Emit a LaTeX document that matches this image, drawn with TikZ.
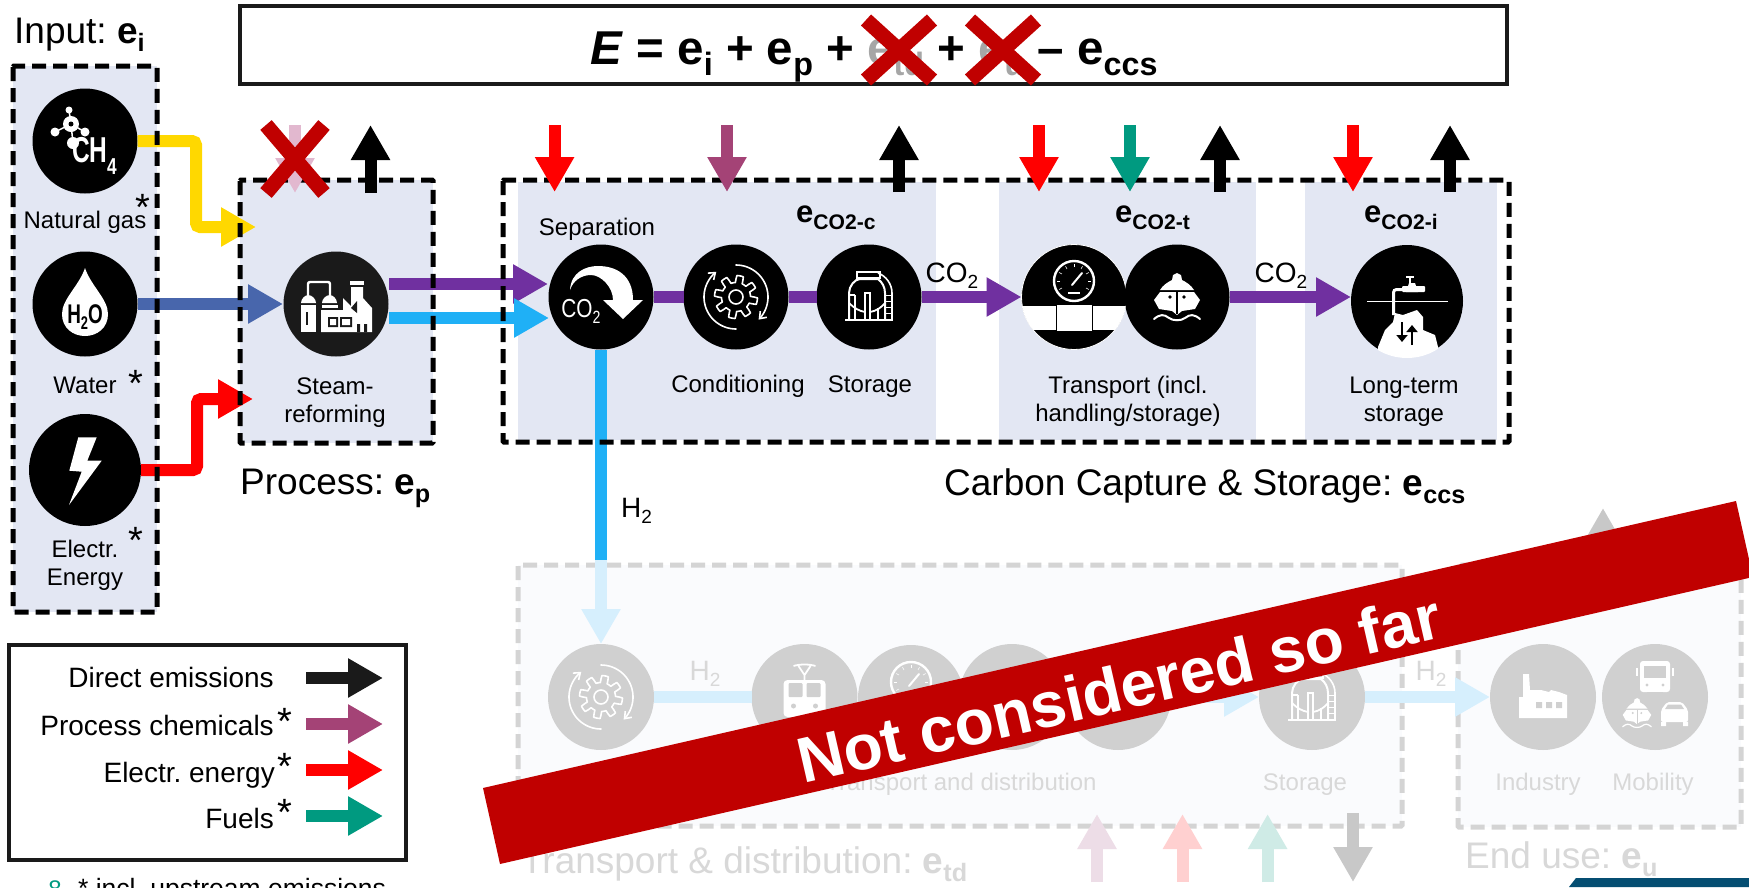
\documentclass[tikz,border=0pt]{standalone}
\usepackage{fontspec}
\usepackage{graphicx}
\setmainfont{Liberation Sans}
\frenchspacing
\usetikzlibrary{arrows.meta}
\definecolor{panel}{HTML}{E3E7F3}
\definecolor{panelL}{HTML}{FAFBFD}
\definecolor{grayD}{HTML}{D4D4D4}
\definecolor{grayC}{HTML}{D0D0D0}
\definecolor{grayT}{HTML}{D8D8D8}
\definecolor{nearblack}{HTML}{1A1A1A}
\definecolor{yel}{HTML}{FFD800}
\definecolor{wat}{HTML}{4866AC}
\definecolor{elec}{HTML}{FF0000}
\definecolor{pur}{HTML}{7030A0}
\definecolor{hyd}{HTML}{1FB0F6}
\definecolor{hydL}{HTML}{D6EFFD}
\definecolor{chem}{HTML}{A44376}
\definecolor{fuel}{HTML}{009A80}
\definecolor{banner}{HTML}{C00000}
\definecolor{navy}{HTML}{054E72}
\definecolor{fchem}{HTML}{EDDDE7}
\definecolor{felec}{HTML}{FFD0D0}
\definecolor{ffuel}{HTML}{CFEBE6}
\definecolor{fblk}{HTML}{C8C8C8}
\definecolor{pink}{HTML}{E2B8CF}
\newcommand{\pxf}[1]{\fontsize{#1}{#1}\selectfont}
\newcommand{\subt}[1]{\raisebox{-.24em}{\scalebox{.68}{#1}}}
\newcommand{\vflow}[4]{\coordinate (#1s) at (#3); \coordinate (#1e) at (#4); \draw[flow,#2] (#1s) -- (#1e);}
\newcommand{\astk}[3]{\node[font=\pxf{38},anchor=base] (#1) at (#2,#3+18) {*};}
\tikzset{
  x=1pt,y=-1pt,
  flow/.style={line width=12pt,-{Triangle[length=35pt,width=37pt]}},
  plainflow/.style={line width=12pt},
  blackc/.style={circle,fill=black,minimum size=105pt,inner sep=0pt,outer sep=0pt},
  grayc/.style={circle,fill=grayC,minimum size=106pt,inner sep=0pt,outer sep=0pt},
  dashbox/.style={draw=black,line width=5pt,dash pattern=on 14pt off 7pt,rounded corners=1pt},
  dashgray/.style={draw=grayD,line width=5pt,dash pattern=on 14pt off 7pt,rounded corners=1pt},
  lab/.style={font=\pxf{24},anchor=base},
  glab/.style={font=\pxf{24},anchor=base,text=grayT},
  lab2/.style={font=\fontsize{24}{28}\selectfont,align=center,anchor=center},
  big/.style={font=\pxf{37},anchor=base west,inner sep=0pt},
  leg/.style={font=\pxf{28},anchor=base east,inner sep=0pt},
  bsub/.style={font=\bfseries\pxf{31},anchor=base west,inner sep=0pt},
  crossx/.style={line width=15pt,draw=banner},
  wline/.style={draw=white,line width=1.6pt},
}
\newcommand{\gearicon}[1]{\begin{scope}[shift={(#1)}]
  \draw[wline,line join=round] plot[domain=0:360,samples=145] (\x:{18+3.5*max(-1,min(1,3*sin(8*\x)))}) -- cycle;
  \draw[wline] (0,0) circle[radius=7];
  \draw[wline,line cap=round,-{Straight Barb[length=6pt,width=9pt]}] plot[domain=-90:45,samples=30] (\x:32);
  \draw[wline,line cap=round,-{Straight Barb[length=6pt,width=9pt]}] plot[domain=90:232,samples=30] (\x:32);
\end{scope}}
\newcommand{\tankicon}[1]{\begin{scope}[shift={(#1)}]
  \draw[wline,line width=2pt] (-24,23) -- (24,23);
  \draw[wline,line width=1.8pt] (-12,-19) rectangle (11,-25);
  \draw[wline,line width=2pt] (-20,23) -- (-20,-4) .. controls (-20,-11) and (-14,-18) .. (-9,-18) -- (9,-18) .. controls (13,-15) and (16,-10) .. (16,-4) -- (16,23);
  \draw[wline] (-20,-2) -- (-14,-2) (-14,-2) -- (-14,23);
  \draw[wline] (9,-24) .. controls (17,-21) and (23,-13) .. (23,-4) -- (23,23);
  \foreach \yy in {-2,4,10,16}{\draw[wline,line width=.8pt] (16,\yy) -- (23,\yy);}
  \draw[wline,line width=1.8pt] (-4,23) -- (-4,-4) -- (1,-4) -- (1,23);
  \draw[wline,line width=1.8pt] (-20,6) .. controls (-15,11) and (-10,14) .. (-4,15) (1,15) .. controls (7,14) and (12,11) .. (16,6);
  \draw[wline] (9,11) -- (9,23);
\end{scope}}
\newcommand{\gaugeicon}[2]{\begin{scope}[shift={(#1)}]
  \begin{scope}
    \clip (0,0) circle[radius=52.5];
    \fill[white] (-60,9) rectangle (60,33);
    \fill[white,draw=#2,line width=1pt] (-18,7) rectangle (18,34);
  \end{scope}
  \draw[white,line width=2.4pt] (0,-16) circle[radius=20];
  \foreach \a in {-210,-180,...,30}{\draw[white,line width=.6pt] (0,-16) ++(\a:14) -- ++(\a:3);}
  \draw[white,line width=2pt,line cap=round] (-2,-12) -- (8,-24);
  \fill[white] (-6,-5) rectangle (6,-3);
\end{scope}}
\newcommand{\shipicon}[3]{\begin{scope}[shift={(#1)},scale=#2]
  \fill[white] (-17,-7) .. controls (-14,-12) and (-9,-15) .. (-5,-17) -- (-4,-22) -- (0,-24) -- (4,-22) -- (5,-17) .. controls (9,-15) and (14,-12) .. (17,-7) -- cycle;
  \fill[white] (-23,3) -- (-17,-5) -- (17,-5) -- (23,3) -- (18,12) -- (5,14) -- (0,18) -- (-5,14) -- (-18,12) -- cycle;
  \draw[#3,line width=#2*1.2pt] (0,-5) -- (0,17);
  \fill[#3] (-7,0) circle[radius=1.8] (7,0) circle[radius=1.8];
  \draw[white,line width=#2*2pt,line cap=round] (-23,22) .. controls (-17,17) and (-13,17) .. (-8,21) .. controls (-4,24) and (4,24) .. (8,21) .. controls (13,17) and (17,17) .. (23,22);
\end{scope}}
\begin{document}
\begin{tikzpicture}
\clip (0,0) rectangle (1749,887);
\fill[white] (0,0) rectangle (1749,887);

% panels
\fill[panel] (13,66) rectangle (157,612);
\fill[panel] (240,180) rectangle (433,443);
\fill[panel] (518,182) rectangle (936,440);
\fill[panel] (999,182) rectangle (1256,440);
\fill[panel] (1305,182) rectangle (1497,440);

% faded lower part
\fill[panelL] (518,565) rectangle (1402,826);
\fill[panelL] (1458,565) rectangle (1741,827);
\draw[dashgray] (518,565) rectangle (1402,826);
\draw[dashgray] (1458,565) rectangle (1741,827);
\node[grayc] (gcond) at (601,697) {};
\node[grayc] (gtrain) at (804.5,697) {};
\node[grayc] (ggauge) at (911,698) {};
\node[grayc] (gship) at (1012,697) {};
\node[grayc] (gfive) at (1118,697) {};
\node[grayc] (gstor) at (1312,697) {};
\node[grayc] (gind) at (1543,697) {};
\node[grayc] (gmob) at (1655,697) {};
\draw[plainflow,hydL] (gcond) -- (gtrain);
\draw[flow,hydL] (gfive) -- (gstor);
\draw[flow,hydL] (gstor) -- (gind);
\gearicon{gcond}
\tankicon{gstor}
\gaugeicon{ggauge}{grayC}
% train
\begin{scope}[shift={(gtrain)}]
  \fill[white,rounded corners=4pt] (-21,-17) rectangle (21,20);
  \fill[grayC,rounded corners=1pt] (-16,-14) rectangle (-2,0) (2,-14) rectangle (16,0);
  \fill[grayC] (-11,9) circle[radius=2.5] (11,9) circle[radius=2.5];
  \draw[white,line width=1.8pt] (-11,-31) .. controls (-5,-33) and (5,-33) .. (11,-31) (-6,-31) -- (0,-22) -- (6,-31) (0,-22) -- (0,-17);
\end{scope}
% industry
\begin{scope}[shift={(gind)}]
  \fill[white] (-24,21) -- (-24,0) -- (-20,0) -- (-20,-23) -- (-14,-23) -- (-13,-7) -- (-3,-7) -- (-2,-7) -- (6,-5) -- (8,-7) -- (16,-5) -- (24,-2) -- (24,21) -- cycle;
  \fill[grayC] (-7,5) rectangle (-1,11) (3,5) rectangle (9,11) (13,5) rectangle (19,11);
\end{scope}
% mobility
\begin{scope}[shift={(gmob)}]
  \fill[white,rounded corners=3pt] (-15,-36) rectangle (15,-5);
  \fill[grayC] (-11,-31) rectangle (11,-19);
  \fill[grayC] (-8,-12) circle[radius=1.6] (8,-12) circle[radius=1.6];
  \draw[white,line width=2pt] (-18,-21) -- (-18,-29) (18,-21) -- (18,-29);
  \fill[grayC] (-8,-5) rectangle (8,-3);
  \fill[white,rounded corners=2pt] (6,25) -- (6,13) -- (12,5) -- (27,5) -- (33,13) -- (33,25) -- cycle;
  \fill[white] (6,25) rectangle (11,29) (28,25) rectangle (33,29);
  \fill[grayC] (13,7.5) -- (26,7.5) -- (29,12) -- (10,12) -- cycle;
\end{scope}
\shipicon{1637,713}{.62}{grayC}
\node[font=\pxf{28},text=grayT,anchor=base] (gh2a) at (705,680) {H\subt{2}};
\node[font=\pxf{28},text=grayT,anchor=base] (gh2b) at (1431,680) {H\subt{2}};
\node[glab] (gl1) at (961,790) {Transport and distribution};
\node[glab] (gl2) at (1305,790) {Storage};
\node[glab] (gl3) at (1538,790) {Industry};
\node[glab] (gl4) at (1653,790) {Mobility};
\node[big,text=grayT] (gtd) at (521,873) {Transport \& distribution: \textbf{e\subt{td}}};
\node[big,text=grayT] (geu) at (1465,868) {End use: \textbf{e\subt{u}}};
\vflow{b1}{fchem}{1097,882}{1097,814}
\vflow{b2}{felec}{1182.5,882}{1182.5,814}
\vflow{b3}{ffuel}{1267.6,882}{1267.6,814}
\vflow{b4}{fblk}{1353,813}{1353,882}
\vflow{b5}{fblk}{1603,575}{1603,508}

% circles
\node[blackc] (ng) at (85,141) {};
\node[blackc] (wa) at (85,304) {};
\node[blackc,minimum size=112pt] (el) at (85,470) {};
\node[blackc,fill=nearblack] (sr) at (336,304) {};
\node[blackc] (sep) at (601,297) {};
\node[blackc] (cond) at (736,297) {};
\node[blackc] (stor) at (869,297) {};
\node[blackc,draw=white,line width=.8pt] (trp) at (1074,297) {};
\node[blackc] (ship) at (1177,297) {};
\node[blackc,minimum size=112pt] (lts) at (1407,301) {};

% process flows
\coordinate (ytip) at (256,227);
\coordinate (rtip) at (253,399);
\coordinate (wtip) at (283,304);
\coordinate (ptip) at (548,284);
\coordinate (htip) at (549,318);
\coordinate (psrc) at (389,284);
\coordinate (hsrc) at (389,318);
\coordinate (h2mid) at (601,560);
\draw[flow,yel,rounded corners=4pt] (ng.east) -- (196,141) |- (ytip);
\draw[flow,wat] (wa.east) -- (wtip);
\draw[flow,elec,rounded corners=4pt] (el.east) -- (197,470) |- (rtip);
\draw[flow,pur] (psrc) -- (ptip);
\draw[flow,hyd] (hsrc) -- (htip);
\draw[plainflow,pur] (sep) -- (cond);
\draw[plainflow,pur] (cond) -- (stor);
\draw[flow,pur] (stor.east) -- (trp.west);
\draw[flow,pur] (ship.east) -- (ship.east -| lts.west);
\draw[plainflow,hyd] (sep.south) -- (h2mid);
\draw[flow,hydL] (h2mid) -- (gcond.north);

% dashed frames
\draw[dashbox] (13,66) rectangle (157,612);
\draw[dashbox] (240,180) rectangle (433,443);
\draw[dashbox] (503,180) rectangle (1509,442);

% top arrows
\vflow{p1}{pink}{295,125}{295,193}
\vflow{k1}{black}{370.5,193}{370.5,125}
\vflow{t1}{elec}{554.6,125}{554.6,192}
\vflow{t2}{chem}{727,125}{727,192}
\vflow{t3}{black}{899,192}{899,125}
\vflow{t4}{elec}{1039,125}{1039,192}
\vflow{t5}{fuel}{1130,125}{1130,192}
\vflow{t6}{black}{1220,192}{1220,125}
\vflow{t7}{elec}{1353,125}{1353,192}
\vflow{t8}{black}{1450,192}{1450,125}

% icons
\begin{scope}[shift={(ng)}]
  \fill[white] (-16,-31) circle[radius=3.5] (-30,-9) circle[radius=4.5] (-14,-17) circle[radius=8] (0,-9) circle[radius=4.5] (-12,2) circle[radius=6];
  \draw[white,line width=1.5pt] (-16,-31) -- (-14,-17) (-30,-9) -- (-14,-17) -- (0,-9) (-14,-17) -- (-12,2);
  \fill[black] (-14,-17) circle[radius=2.5];
  \node[text=white,font=\bfseries\pxf{36},xscale=.68,anchor=base] (ch) at (5,21) {CH};
  \node[text=white,font=\bfseries\pxf{23},xscale=.75,anchor=base] (chs) at (27,33) {4};
\end{scope}
\begin{scope}[shift={(wa)}]
  \fill[white] (0,-36) .. controls (-6,-18) and (-23,-5) .. (-23,10) .. controls (-23,24) and (-12,32) .. (0,32) .. controls (12,32) and (23,24) .. (23,10) .. controls (23,-5) and (6,-18) .. (0,-36) -- cycle;
  \node[text=black,font=\bfseries\pxf{27},xscale=.7,anchor=base] (h2o) at (0,19) {H\raisebox{-.25em}{\scalebox{.68}{2}}O};
\end{scope}
\fill[white,shift={(el)}] (-6.7,-32.7) -- (11.7,-32.7) -- (2.3,-9.3) -- (16.7,-9.3) -- (-16,35) -- (-3.3,1.7) -- (-15.7,.7) -- cycle;
\begin{scope}[shift={(sr)}]
  % tanks
  \fill[white] (-35,-1) .. controls (-35,-5) and (-31,-9) .. (-28,-9) .. controls (-24,-9) and (-20,-5) .. (-20,-1) -- cycle;
  \fill[white] (-35,1) rectangle (-20,28);
  \fill[nearblack] (-30,8) rectangle (-28.5,21);
  \fill[white] (-14,-1) .. controls (-14,-5) and (-10,-9) .. (-6,-9) .. controls (-3,-9) and (1,-5) .. (1,-1) -- cycle;
  \fill[white] (-14,1) rectangle (2,3.5);
  \draw[white,line width=2.4pt,rounded corners=2pt] (-28,-9) -- (-28,-22) -- (-6,-22) -- (-6,-9);
  % building
  \fill[white] (-15,28) -- (-15,6) -- (7,6) -- (7,-6) -- (15,2) -- (15,-17) -- (27,-17) -- (27,-6) -- (36,4) -- (36,28) -- cycle;
  \fill[white] (14,-23) rectangle (28,-19.5);
  \fill[nearblack] (21,-3) -- (21,9) -- (15,4) -- cycle;
  \fill[nearblack] (-8,13) rectangle (2,23) (4,13) rectangle (16,23) (21,20) rectangle (24,28) (28,20) rectangle (31,28);
  \fill[white] (-6,15) rectangle (0,21) (6,15) rectangle (14,21);
\end{scope}
\begin{scope}[shift={(sep)}]
  \fill[white] (-31,-7) .. controls (-30,-25) and (-15,-31) .. (-3,-31) .. controls (15,-31) and (32,-22) .. (32,3) -- (42,3) -- (22,22) -- (2,3) -- (12,3) .. controls (12,-10) and (0,-22) .. (-10,-22) .. controls (-20,-22) and (-28,-16) .. (-31,-7) -- cycle;
  \node[text=white,font=\pxf{26},xscale=.8,anchor=base] (co2i) at (-20,20) {CO\raisebox{-.25em}{\scalebox{.68}{2}}};
\end{scope}
\gearicon{cond}
\tankicon{stor}
\gaugeicon{trp}{black}
\shipicon{ship}{1}{black}
\begin{scope}[shift={(lts)}]
  \begin{scope}
    \clip (0,0) circle[radius=57];
    \fill[white] (-29,60) -- (-29,46) -- (-22,29) -- (-14,21) -- (-12,12) -- (-4,14) -- (10,9) -- (16,16) -- (16,29) -- (28,34) -- (31,46) -- (31,60) -- cycle;
  \end{scope}
  \draw[white,line width=1pt] (-40,0) -- (41,0);
  \draw[white,line width=3pt,rounded corners=3pt] (-13.5,14) -- (-13.5,-11.5) -- (-4,-11.5);
  \fill[white,rounded corners=1pt] (-5,-15) rectangle (18,-9);
  \fill[white] (2,-18) -- (8,-18) -- (11,-9) -- (-1,-9) -- cycle;
  \fill[white] (-1,-25) rectangle (7,-23);
  \draw[white,line width=1.5pt] (3,-24) -- (3,-17);
  \draw[black,line width=2pt,-{Triangle[length=7pt,width=11pt]}] (-5,21) -- (-5,41);
  \draw[black,line width=2pt,-{Triangle[length=7pt,width=11pt]}] (5,44) -- (5,24);
\end{scope}

% crosses on process
\draw[crossx] (266,125) -- (324,193);
\draw[crossx] (324,125) -- (266,193);

% text top
\node[big] (tin) at (14,43) {Input: \textbf{e\subt{i}}};
\node[big] (tpr) at (240,494) {Process: \textbf{e\subt{p}}};
\node[big] (tcc) at (944,495) {Carbon Capture \& Storage: \textbf{e\subt{ccs}}};
\node[lab] (lng) at (85,228) {Natural gas};
\node[lab] (lwa) at (85,393) {Water};
\node[lab2] (lel) at (85,565) {Electr.\\Energy};
\node[lab2] (lsr) at (335,402.5) {Steam-\\reforming};
\node[lab] (lse) at (597,235) {Separation};
\node[lab] (lco) at (738,392) {Conditioning};
\node[lab] (lst) at (870,392) {Storage};
\node[lab2] (ltr) at (1128,401.5) {Transport (incl.\\handling/storage)};
\node[lab2] (llt) at (1404,401.5) {Long-term\\storage};
\astk{s1}{143}{202}
\astk{s2}{136}{378}
\astk{s3}{136}{535}
\node[bsub] (ec) at (796,222) {e\subt{CO2-c}};
\node[bsub] (et) at (1115,222) {e\subt{CO2-t}};
\node[bsub] (ei) at (1364,222) {e\subt{CO2-i}};
\node[font=\pxf{28},anchor=base] (co2a) at (952,282) {CO\subt{2}};
\node[font=\pxf{28},anchor=base] (co2b) at (1281,282) {CO\subt{2}};
\node[font=\pxf{28},anchor=base west,inner sep=0pt] (h2l) at (621,517) {H\subt{2}};

% equation
\draw[draw=nearblack,line width=4pt,fill=white] (240,6) rectangle (1507,84);
\node[font=\bfseries\pxf{47.5},anchor=base] (eq) at (874,64) {\textit{E} = e\subt{i} + e\subt{p} + \textcolor{gray!70}{e\subt{td}} + \textcolor{gray!70}{e\subt{u}} – e\subt{ccs}};
\draw[crossx] (866,20) -- (932,80);
\draw[crossx] (932,20) -- (866,80);
\draw[crossx] (970,20) -- (1036,80);
\draw[crossx] (1036,20) -- (970,80);

% legend
\draw[draw=nearblack,line width=4.5pt,fill=white] (9,645) rectangle (406,860);
\node[leg] (l1) at (274,687) {Direct emissions};
\node[leg] (l2) at (274,735) {Process chemicals};
\node[leg] (l3) at (275,782) {Electr. energy};
\node[leg] (l4) at (274,828) {Fuels};
\astk{s4}{285}{716}
\astk{s5}{285}{761}
\astk{s6}{285}{807}
\vflow{m1}{nearblack}{306,678}{383,678}
\vflow{m2}{chem}{306,724}{383,724}
\vflow{m3}{elec}{306,770}{383,770}
\vflow{m4}{fuel}{306,816}{383,816}
\node[font=\pxf{26.5},anchor=base west,inner sep=0pt] (foot) at (78,897) {* incl. upstream emissions};
\node[font=\pxf{24},text=fuel,anchor=base] (pg) at (55,897) {8};
\fill[navy] (1569,887) -- (1576,878) -- (1749,878) -- (1749,887) -- cycle;

% banner
\fill[banner] (483,788) -- (1736,501) -- (1753,577) -- (500,864) -- cycle;
\node[text=white,font=\bfseries\pxf{64},rotate=12.9] (nc) at (1119,688) {Not considered so far};
\end{tikzpicture}
\end{document}
